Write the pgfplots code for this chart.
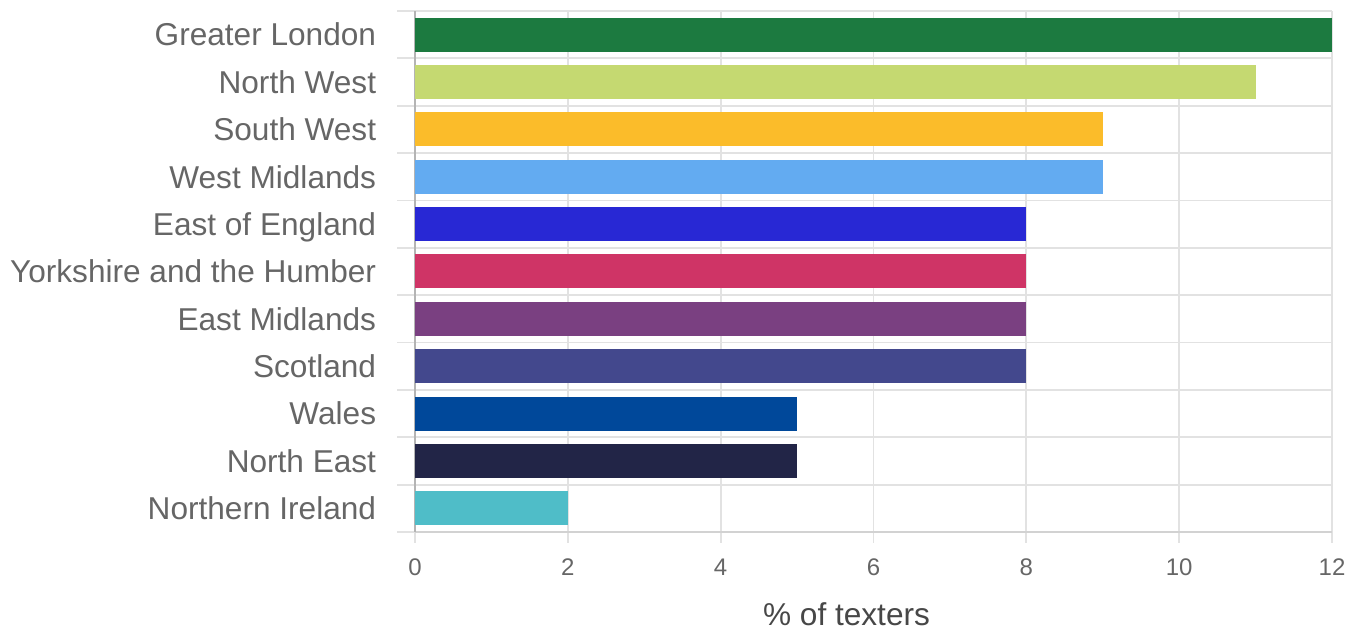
\documentclass[border=0pt]{standalone}
\usepackage{fontspec}
\setmainfont{Liberation Sans}
\usepackage{pgfplots}
\pgfplotsset{compat=1.18}
\definecolor{cA}{HTML}{1C7A40}
\definecolor{cB}{HTML}{C5D971}
\definecolor{cC}{HTML}{FBBC2A}
\definecolor{cD}{HTML}{63ABF1}
\definecolor{cE}{HTML}{2828D4}
\definecolor{cF}{HTML}{CF3466}
\definecolor{cG}{HTML}{7A4081}
\definecolor{cH}{HTML}{43488D}
\definecolor{cI}{HTML}{00489A}
\definecolor{cJ}{HTML}{222547}
\definecolor{cK}{HTML}{4FBDC8}
\definecolor{gridgray}{HTML}{E2E2E2}
\definecolor{axisgray}{HTML}{B4B4B4}
\definecolor{bottomgray}{HTML}{D2D2D2}
\definecolor{labgray}{HTML}{666666}
\definecolor{xlabgray}{HTML}{474747}
\begin{document}
\begin{tikzpicture}
\begin{axis}[
  scale only axis, width=458.5pt, height=260.5pt,
  xmin=0, xmax=12, ymin=-0.5, ymax=10.5,
  axis x line*=bottom, axis y line*=left,
  x axis line style={-, draw=bottomgray, line width=0.9pt},
  y axis line style={-, draw=axisgray, line width=1pt},
  tick align=outside,
  xtick={0,2,4,6,8,10,12},
  ytick={0,1,2,3,4,5,6,7,8,9,10},
  yticklabels={Northern Ireland, North East, Wales, Scotland, East Midlands, Yorkshire and the Humber, East of England, West Midlands, South West, North West, Greater London},
  minor ytick={-0.5,0.5,1.5,2.5,3.5,4.5,5.5,6.5,7.5,8.5,9.5,10.5},
  minor tick length=9pt,
  xtick style={/pgfplots/major tick length=5.5pt, draw=gridgray, line width=0.9pt},
  ytick style={/pgfplots/major tick length=0pt, draw=gridgray, line width=0.9pt},
  xmajorgrids, yminorgrids,
  grid style={draw=gridgray, line width=0.9pt},
  /pgf/number format/assume math mode=true,
  xticklabel style={anchor=base, inner sep=0pt, yshift=-17.5pt, font=\fontsize{12}{14}\selectfont, text=labgray},
  yticklabel style={anchor=base east, inner sep=0pt, xshift=-15pt, yshift=-5.65pt, font=\fontsize{15.8}{18}\selectfont, text=labgray},
  xlabel={\% of texters},
  xlabel style={at={(axis description cs:0.5,0)}, anchor=base, inner sep=0pt, yshift=-47pt, xshift=-13.5pt, font=\fontsize{15.8}{18}\selectfont, text=xlabgray},
  bar width=17pt,
  every axis plot/.append style={xbar, bar shift=0pt, draw=none},
]
\addplot[fill=cA] coordinates {(12,10)};
\addplot[fill=cB] coordinates {(11,9)};
\addplot[fill=cC] coordinates {(9,8)};
\addplot[fill=cD] coordinates {(9,7)};
\addplot[fill=cE] coordinates {(8,6)};
\addplot[fill=cF] coordinates {(8,5)};
\addplot[fill=cG] coordinates {(8,4)};
\addplot[fill=cH] coordinates {(8,3)};
\addplot[fill=cI] coordinates {(5,2)};
\addplot[fill=cJ] coordinates {(5,1)};
\addplot[fill=cK] coordinates {(2,0)};
\end{axis}
\pgfresetboundingbox
\path (-207.5pt,-49pt) rectangle (471.5pt,266pt);
\end{tikzpicture}
\end{document}
